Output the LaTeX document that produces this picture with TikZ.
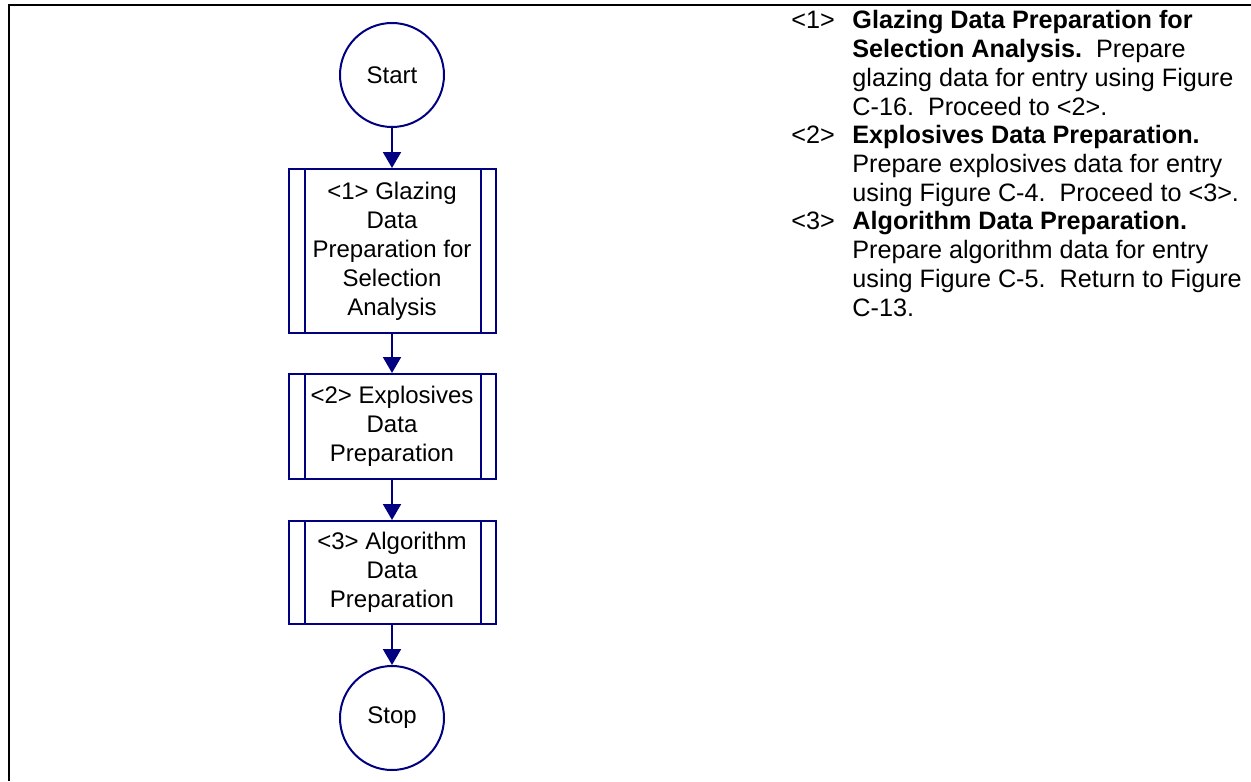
\documentclass[tikz,border=0pt]{standalone}
\usepackage{fontspec}
\setmainfont{Liberation Sans}
\usetikzlibrary{arrows.meta}
\definecolor{navy}{RGB}{0,0,128}
\begin{document}
\begin{tikzpicture}[x=0.5pt,y=-0.5pt,
  term/.style={circle, draw=navy, line width=1pt, minimum size=52pt, inner sep=0pt, font=\fontsize{12}{14.5}\selectfont},
  proc/.style={rectangle, draw=navy, line width=1pt, minimum width=103.5pt, inner sep=0pt, align=center, font=\fontsize{12}{14.5}\selectfont},
  bar/.style={draw=navy, line width=1pt},
  arr/.style={draw=navy, line width=1pt, -{Triangle[length=8pt,width=9pt]}},
  desc/.style={anchor=base west, inner sep=0pt, font=\fontsize{12.6}{14}\selectfont},
  frame/.style={line width=1.4pt}
]
\useasboundingbox (0,0) rectangle (1251,781);
\draw[frame] (9,781) -- (9,5) -- (1251,5);

\node[term] (start) at (392,75) {Start};
\node[proc, minimum height=82pt] (b1) at (392,251) {<1> Glazing\\Data\\Preparation for\\Selection\\Analysis};
\node[proc, minimum height=52.5pt] (b2) at (392,426.5) {<2> Explosives\\Data\\Preparation};
\node[proc, minimum height=51.5pt] (b3) at (392,572.5) {<3> Algorithm\\Data\\Preparation};
\node[term] (stop) at (392,718) {Stop};

\foreach \b in {b1,b2,b3}{
  \draw[bar] ([xshift=8.5pt]\b.north west) -- ([xshift=8.5pt]\b.south west);
  \draw[bar] ([xshift=-8pt]\b.north east) -- ([xshift=-8pt]\b.south east);
}

\draw[arr] (start.south) -- (b1.north);
\draw[arr] (b1.south) -- (b2.north);
\draw[arr] (b2.south) -- (b3.north);
\draw[arr] (b3.south) -- (stop.north);

\node[desc] (n1) at (791,29) {<1>};
\node[desc] (d1) at (852,29) {\textbf{Glazing Data Preparation for}};
\node[desc] (d2) at (852,57.7) {\textbf{Selection Analysis.}\ \ Prepare};
\node[desc] (d3) at (852,86.4) {glazing data for entry using Figure};
\node[desc] (d4) at (852,115.1) {C-16.\ \ Proceed to <2>.};
\node[desc] (n2) at (791,143.8) {<2>};
\node[desc] (d5) at (852,143.8) {\textbf{Explosives Data Preparation.}};
\node[desc] (d6) at (852,172.5) {Prepare explosives data for entry};
\node[desc] (d7) at (852,201.2) {using Figure C-4.\ \ Proceed to <3>.};
\node[desc] (n3) at (791,229.9) {<3>};
\node[desc] (d8) at (852,229.9) {\textbf{Algorithm Data Preparation.}};
\node[desc] (d9) at (852,258.6) {Prepare algorithm data for entry};
\node[desc] (d10) at (852,287.3) {using Figure C-5.\ \ Return to Figure};
\node[desc] (d11) at (852,316) {C-13.};
\end{tikzpicture}
\end{document}
